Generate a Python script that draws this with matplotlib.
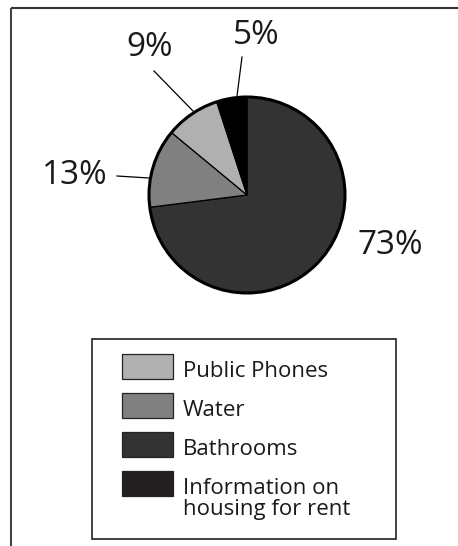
import matplotlib.pyplot as plt
from matplotlib.patches import Circle, Rectangle

# Data, in pie order (clockwise from 12 o'clock)
categories = ['Bathrooms', 'Water', 'Public Phones', 'Information on\nhousing for rent']
shares = [73, 13, 9, 5]
slice_colors = ['#333333', '#808080', '#b0b0b0', '#000000']
pct_labels = ['73%', '13%', '9%', '5%']

# Legend order as shown in the figure
legend_order = ['Public Phones', 'Water', 'Bathrooms', 'Information on\nhousing for rent']
legend_colors = ['#b0b0b0', '#808080', '#333333', '#231f20']

plt.rcParams['font.family'] = ['Open Sans', 'DejaVu Sans']

W, H = 458, 546
fig = plt.figure(figsize=(W / 100, H / 100), dpi=100)
ax = fig.add_axes([0, 0, 1, 1])
ax.axis('off')

# outer frame: only top and left lines are visible
ax.plot([11, W], [8, 8], color='#333333', lw=1.5, solid_capstyle='butt')
ax.plot([11, 11], [8, H], color='#444444', lw=1.5, solid_capstyle='butt')

# pie (y axis is inverted, so angles flip: use counterclock=True from -90)
cx, cy, r = 247, 195, 98
wedges, _ = ax.pie(shares, colors=slice_colors, startangle=-90, counterclock=True,
                   center=(cx, cy), radius=r,
                   wedgeprops=dict(edgecolor='black', linewidth=0.9))
ax.add_patch(Circle((cx, cy), r, fill=False, edgecolor='black', lw=2.2))
ax.set_xlim(0, W)
ax.set_ylim(H, 0)
ax.set_aspect('auto')

# percentage labels and leader lines
label_pos = [(390, 246), (75, 176), (150, 48), (256, 35)]
leaders = [None, [(117, 176), (149, 178)], [(154, 71), (193, 111)], [(242, 57), (237, 96)]]
for txt, (tx, ty), ld in zip(pct_labels, label_pos, leaders):
    ax.text(tx, ty, txt, fontsize=24, ha='center', va='center', color='#1a1a1a')
    if ld:
        ax.plot([ld[0][0], ld[1][0]], [ld[0][1], ld[1][1]], color='black', lw=0.9)

# legend box
ax.add_patch(Rectangle((92, 339), 304, 200, fill=False, edgecolor='#222222', lw=1.2))
row_y = [366, 405, 444, 483]
line_gap = 21
for name, col, y in zip(legend_order, legend_colors, row_y):
    ax.add_patch(Rectangle((122, y - 12.5), 51, 25, facecolor=col, edgecolor='#222222', lw=0.9))
    # baseline of a multi-line text is its last line
    extra = name.count('\n') * line_gap
    ax.text(183, y + 11 + extra, name, fontsize=16, ha='left', va='baseline', color='#1a1a1a',
            linespacing=1.0)

fig.savefig('out.png', dpi=100)
